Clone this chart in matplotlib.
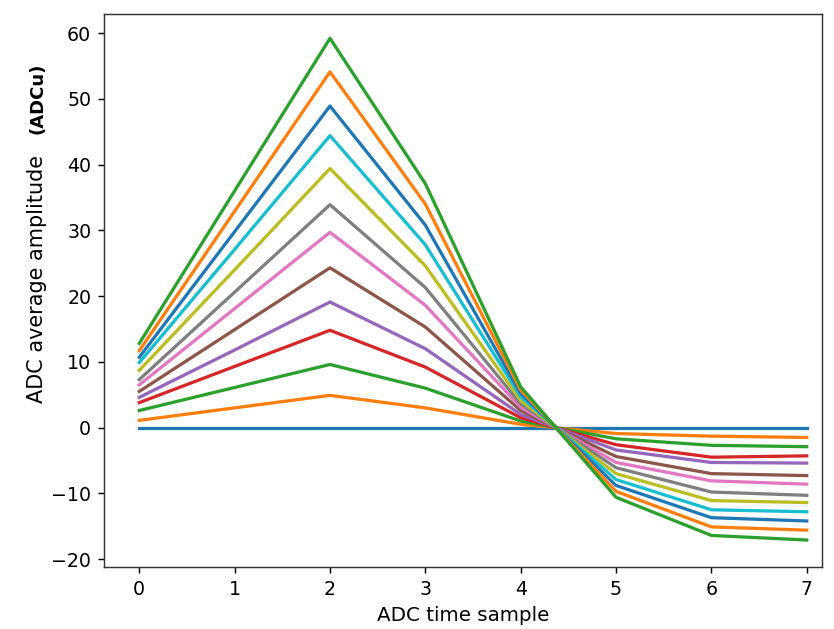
import matplotlib
matplotlib.use("Agg")
import matplotlib.pyplot as plt

samples = [0, 1, 2, 3, 4, 5, 6, 7]

# amplitude series (one per injected charge level)
s00 = [0, 0, 0, 0, 0, 0, 0, 0]
s01 = [1.1, 3.0, 4.9, 3.0, 0.5, -0.9, -1.3, -1.5]
s02 = [2.6, 6.1, 9.6, 6.0, 1.0, -1.7, -2.7, -2.9]
s03 = [3.8, 9.3, 14.8, 9.2, 1.5, -2.6, -4.5, -4.3]
s04 = [4.6, 11.8, 19.1, 12.0, 2.0, -3.4, -5.3, -5.4]
s05 = [5.5, 14.9, 24.3, 15.3, 2.6, -4.4, -7.0, -7.3]
s06 = [6.5, 18.1, 29.7, 18.6, 3.1, -5.3, -8.1, -8.6]
s07 = [7.3, 20.6, 33.9, 21.3, 3.6, -6.1, -9.8, -10.3]
s08 = [8.7, 24.0, 39.4, 24.6, 4.1, -7.0, -11.1, -11.4]
s09 = [9.9, 27.1, 44.4, 27.8, 4.7, -7.9, -12.5, -12.8]
s10 = [10.7, 29.8, 48.9, 30.8, 5.2, -8.8, -13.7, -14.2]
s11 = [11.7, 32.9, 54.1, 34.0, 5.7, -9.7, -15.1, -15.6]
s12 = [12.8, 36.0, 59.2, 37.1, 6.2, -10.6, -16.4, -17.1]

series = [s00, s01, s02, s03, s04, s05, s06, s07, s08, s09, s10, s11, s12]

fig = plt.figure(figsize=(834 / 130, 629 / 130), dpi=130)
ax = fig.add_axes([104 / 834, 62 / 629, (822 - 104) / 834, (567 - 14) / 629])

for s in series:
    ax.plot(samples, s, lw=1.8)

ax.set_xlim(-0.37, 7.16)
ax.set_ylim(-21.2, 62.9)
ax.set_xlabel("ADC time sample", fontsize=11)
ax.tick_params(labelsize=10.5)
for sp in ax.spines.values():
    sp.set_color("#333333")

fig.text(37 / 834, 1 - 279 / 629, "ADC average amplitude", rotation=90,
         ha="center", va="center", fontsize=11.5)
fig.text(38 / 834, 1 - 98 / 629, "(ADCu)", rotation=90,
         ha="center", va="center", fontsize=10, fontweight="bold")

fig.savefig("out.png", dpi=130)
